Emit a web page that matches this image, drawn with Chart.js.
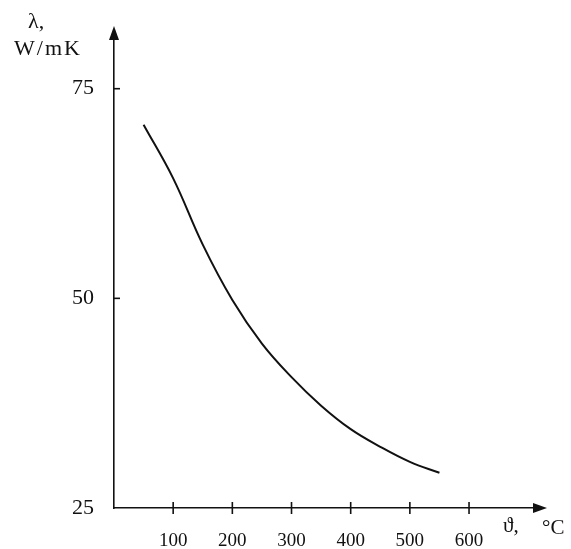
<!DOCTYPE html>
<html>
<head>
<meta charset="utf-8">
<script src="https://cdn.jsdelivr.net/npm/chart.js@4/dist/chart.umd.min.js"></script>
<style>
  html, body { margin: 0; padding: 0; background: #fff; }
  canvas { display: block; }
</style>
</head>
<body>
<canvas id="chart" width="571" height="549"></canvas>
<script>
// temperature, degC
const temps = [50, 100, 150, 200, 250, 300, 350, 400, 450, 500, 550];
// thermal conductivity, W/mK
const lambda = [70.7, 64.3, 56.4, 49.8, 44.6, 40.6, 37.2, 34.4, 32.3, 30.5, 29.2];
const xTicks = [100, 200, 300, 400, 500, 600];
const yTicks = [25, 50, 75];

const serif = '"Liberation Serif", "DejaVu Serif", serif';

// arrows, cross ticks and axis captions
const axisDeco = {
  id: 'axisDeco',
  afterDraw(chart) {
    const ctx = chart.ctx;
    const xs = chart.scales.x, ys = chart.scales.y;
    const left = xs.left, bottom = ys.bottom, top = ys.top, right = xs.right;
    ctx.save();
    ctx.strokeStyle = '#111';
    ctx.fillStyle = '#111';
    ctx.lineWidth = 1.6;
    // x tick marks cross the axis
    xTicks.forEach(v => {
      const px = xs.getPixelForValue(v);
      ctx.beginPath();
      ctx.moveTo(px, bottom - 6);
      ctx.lineTo(px, bottom + 6);
      ctx.stroke();
    });
    // y tick marks, inside
    yTicks.slice(1).forEach(v => {
      const py = ys.getPixelForValue(v);
      ctx.beginPath();
      ctx.moveTo(left, py);
      ctx.lineTo(left + 6, py);
      ctx.stroke();
    });
    // arrow heads
    ctx.beginPath();
    ctx.moveTo(left, top - 4);
    ctx.lineTo(left - 5, top + 10);
    ctx.lineTo(left + 5, top + 10);
    ctx.closePath();
    ctx.fill();
    ctx.beginPath();
    ctx.moveTo(right + 4, bottom);
    ctx.lineTo(right - 10, bottom - 5);
    ctx.lineTo(right - 10, bottom + 5);
    ctx.closePath();
    ctx.fill();
    // captions
    ctx.textBaseline = 'middle';
    ctx.textAlign = 'left';
    ctx.font = '22px ' + serif;
    ctx.fillText('λ,', 28, 22);
    ctx.letterSpacing = '2px';
    ctx.fillText('W/mK', 14, 49);
    ctx.letterSpacing = '0px';
    ctx.font = '21px ' + serif;
    ctx.fillText('ϑ,', 503, 526);
    ctx.fillText('°C', 542, 528);
    ctx.restore();
  }
};

new Chart(document.getElementById('chart'), {
  type: 'line',
  data: {
    labels: temps,
    datasets: [{
      data: temps.map((t, i) => ({ x: t, y: lambda[i] })),
      borderColor: '#111',
      borderWidth: 2,
      pointRadius: 0,
      tension: 0.4,
      fill: false
    }]
  },
  options: {
    responsive: false,
    animation: false,
    layout: { padding: { top: 30, right: 28, left: 0, bottom: 0 } },
    plugins: { legend: { display: false }, tooltip: { enabled: false } },
    scales: {
      x: {
        type: 'linear',
        min: 0,
        max: 725,
        afterBuildTicks: s => { s.ticks = xTicks.map(v => ({ value: v })); },
        afterFit: s => { s.height = 41; },
        grid: { display: false },
        border: { display: true, color: '#111', width: 1.6 },
        ticks: { color: '#111', padding: 14, maxRotation: 0, font: { family: serif, size: 19 } }
      },
      y: {
        type: 'linear',
        min: 25,
        max: 82,
        afterBuildTicks: s => { s.ticks = yTicks.map(v => ({ value: v })); },
        afterFit: s => { s.width = 114; },
        grid: { display: false },
        border: { display: true, color: '#111', width: 1.6 },
        ticks: { color: '#111', padding: 12, font: { family: serif, size: 22 } }
      }
    }
  },
  plugins: [axisDeco]
});
</script>
</body>
</html>
